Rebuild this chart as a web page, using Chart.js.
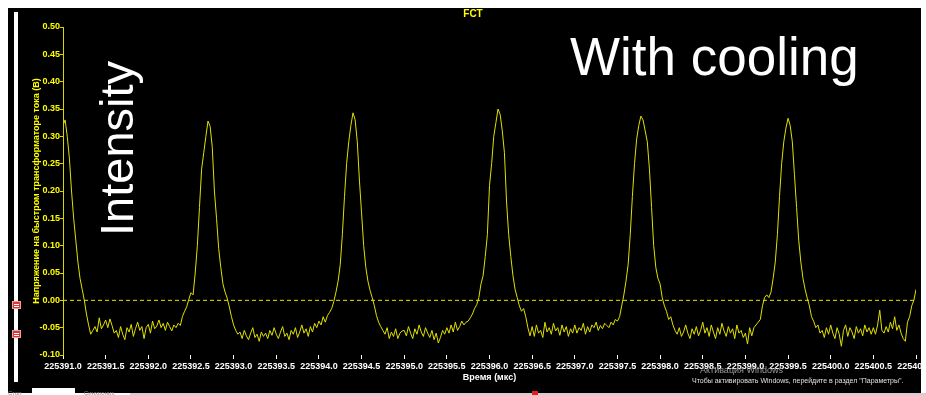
<!DOCTYPE html>
<html>
<head>
<meta charset="utf-8">
<script src="https://cdn.jsdelivr.net/npm/chart.js@4.4.1/dist/chart.umd.min.js"></script>
<style>
html, body { margin: 0; padding: 0; background: #fff; }
#wrap { width: 926px; height: 395px; }
</style>
</head>
<body>
<div id="wrap"><canvas id="chart" width="926" height="395"></canvas></div>
<script>
// Сигнал FCT, отсчёты каждые 0.025 мкс начиная с 225391.0
const timeStart = 225391.0;
const timeStep = 0.025;
const voltage = [
  0.32, 0.33, 0.30, 0.26, 0.20, 0.15, 0.11, 0.07, 0.04, 0.02, 0.00, -0.025, -0.045, -0.062, -0.055, -0.048, -0.058, -0.032, -0.052, -0.045,
  -0.036, -0.05, -0.034, -0.046, -0.06, -0.055, -0.068, -0.048, -0.062, -0.072, -0.05, -0.058, -0.044, -0.066, -0.052, -0.04, -0.055, -0.048, -0.07, -0.05,
  -0.044, -0.06, -0.038, -0.052, -0.047, -0.036, -0.05, -0.042, -0.055, -0.04, -0.048, -0.056, -0.045, -0.05, -0.042, -0.046, -0.03, -0.02, -0.012, 0.002,
  0.014, 0.01, 0.05, 0.10, 0.17, 0.24, 0.27, 0.30, 0.328, 0.318, 0.28, 0.20, 0.15, 0.095, 0.06, 0.03, 0.015, 0.004, -0.012, -0.03,
  -0.045, -0.055, -0.062, -0.058, -0.07, -0.055, -0.065, -0.072, -0.06, -0.05, -0.068, -0.062, -0.075, -0.058, -0.066, -0.06, -0.07, -0.055, -0.064, -0.05,
  -0.062, -0.07, -0.058, -0.048, -0.066, -0.06, -0.072, -0.055, -0.062, -0.05, -0.068, -0.058, -0.045, -0.06, -0.052, -0.066, -0.048, -0.058, -0.042, -0.05,
  -0.038, -0.045, -0.03, -0.04, -0.028, -0.022, -0.015, -0.002, 0.015, 0.035, 0.065, 0.12, 0.19, 0.25, 0.29, 0.32, 0.343, 0.33, 0.29, 0.22,
  0.16, 0.10, 0.06, 0.035, 0.018, 0.005, -0.01, -0.028, -0.04, -0.048, -0.055, -0.062, -0.05, -0.07, -0.058, -0.066, -0.052, -0.07, -0.06, -0.056,
  -0.055, -0.065, -0.048, -0.06, -0.07, -0.052, -0.062, -0.045, -0.058, -0.066, -0.05, -0.06, -0.068, -0.055, -0.072, -0.06, -0.078, -0.068, -0.055, -0.062,
  -0.05, -0.06, -0.045, -0.058, -0.04, -0.055, -0.048, -0.038, -0.045, -0.04, -0.038, -0.032, -0.025, -0.015, -0.008, 0.005, 0.03, 0.045, 0.08, 0.12,
  0.21, 0.25, 0.30, 0.325, 0.35, 0.34, 0.31, 0.27, 0.18, 0.12, 0.08, 0.045, 0.02, 0.005, -0.01, -0.02, -0.015, -0.03, -0.05, -0.065,
  -0.048, -0.066, -0.045, -0.06, -0.055, -0.068, -0.04, -0.058, -0.05, -0.062, -0.042, -0.056, -0.05, -0.064, -0.045, -0.058, -0.048, -0.066, -0.052, -0.06,
  -0.045, -0.06, -0.05, -0.055, -0.042, -0.062, -0.048, -0.058, -0.045, -0.05, -0.04, -0.055, -0.046, -0.052, -0.042, -0.046, -0.05, -0.04, -0.045, -0.035,
  -0.038, -0.03, -0.01, 0.01, 0.035, 0.065, 0.12, 0.19, 0.25, 0.295, 0.32, 0.337, 0.33, 0.31, 0.29, 0.24, 0.17, 0.10, 0.06, 0.04,
  0.03, 0.005, -0.01, -0.02, -0.035, -0.03, -0.045, -0.055, -0.062, -0.05, -0.066, -0.058, -0.045, -0.06, -0.07, -0.052, -0.062, -0.048, -0.065, -0.055,
  -0.04, -0.06, -0.05, -0.066, -0.045, -0.058, -0.07, -0.05, -0.062, -0.042, -0.056, -0.066, -0.048, -0.06, -0.052, -0.07, -0.045, -0.06, -0.055, -0.068,
  -0.06, -0.08, -0.05, -0.065, -0.05, -0.045, -0.04, -0.035, -0.01, 0.005, 0.01, 0.005, 0.015, 0.04, 0.07, 0.12, 0.19, 0.25, 0.29, 0.315,
  0.333, 0.32, 0.29, 0.23, 0.17, 0.11, 0.07, 0.04, 0.02, 0.004, -0.01, -0.03, -0.038, -0.05, -0.045, -0.06, -0.055, -0.068, -0.05, -0.062,
  -0.045, -0.06, -0.07, -0.05, -0.062, -0.084, -0.055, -0.045, -0.066, -0.05, -0.058, -0.07, -0.048, -0.06, -0.052, -0.065, -0.045, -0.058, -0.05, -0.062,
  -0.05, -0.062, -0.045, -0.018, -0.055, -0.06, -0.048, -0.058, -0.04, -0.052, -0.03, -0.055, -0.045, -0.06, -0.07, -0.075, -0.04, -0.03, -0.01, 0.0,
  0.02
];

// оси
const xMin = 225391.0, xMax = 225401.0, xStep = 0.5;
const yMin = -0.10, yMax = 0.50, yStep = 0.05;
const zeroLevel = [0, 0];

const FONT = "'Liberation Sans', Arial, sans-serif";
const YELLOW = '#ffff00';

const points = voltage.map((v, i) => ({ x: timeStart + i * timeStep, y: v }));

// фон, рамка окна и надписи поверх графика
const decor = {
  id: 'decor',
  beforeDraw(chart) {
    const c = chart.ctx;
    c.save();
    c.fillStyle = '#fff';
    c.fillRect(0, 0, 926, 395);
    c.fillStyle = '#000';
    c.fillRect(8, 8, 913, 385);
    // ползунок слева
    c.fillStyle = '#fff';
    c.fillRect(14, 12, 4, 370);
    c.restore();
  },
  afterDraw(chart) {
    const c = chart.ctx;
    const a = chart.chartArea;
    c.save();
    // правая белая кромка обрезает последнюю подпись
    c.fillStyle = '#fff';
    c.fillRect(921, 0, 5, 395);
    c.fillStyle = '#d0d0d0';
    c.fillRect(130, 393, 796, 2);

    // красные ручки ползунка
    [301, 330].forEach(y => {
      c.fillStyle = '#e03535';
      c.fillRect(12, y, 9, 8);
      c.strokeStyle = '#f0a0a0';
      c.lineWidth = 1;
      c.strokeRect(12.5, y + 0.5, 8, 7);
      c.fillStyle = '#fff';
      c.fillRect(14, y + 3, 5, 1);
      c.fillRect(14, y + 5, 5, 1);
    });

    // нижняя строка окна
    c.fillStyle = '#fff';
    c.fillRect(32, 388, 43, 7);
    c.fillStyle = '#888';
    c.font = '6px ' + FONT;
    c.textBaseline = 'alphabetic';
    c.textAlign = 'left';
    c.fillText('Стоп', 8, 395);
    c.fillText('Синхрониз.', 84, 395);
    c.fillStyle = '#e02020';
    c.fillRect(532, 391, 6, 4);

    // заголовок
    c.fillStyle = YELLOW;
    c.font = 'bold 10px ' + FONT;
    c.textAlign = 'center';
    c.textBaseline = 'middle';
    c.fillText('FCT', 473, 14);

    // подпись оси Y
    c.save();
    c.translate(37, (a.top + a.bottom) / 2);
    c.rotate(-Math.PI / 2);
    c.font = 'bold 9px ' + FONT;
    c.fillText('Напряжение на быстром трансформаторе тока (В)', 0, 0);
    c.restore();

    // подпись оси X
    c.fillStyle = '#fff';
    c.font = 'bold 9px ' + FONT;
    c.fillText('Время (мкс)', (a.left + a.right) / 2, 378);

    // большие надписи
    c.font = '53px ' + FONT;
    c.textAlign = 'left';
    c.textBaseline = 'alphabetic';
    c.fillText('With cooling', 570, 75);
    c.save();
    c.translate(133, 236);
    c.rotate(-Math.PI / 2);
    c.font = '47px ' + FONT;
    c.fillText('Intensity', 0, 0);
    c.restore();

    // водяной знак активации
    c.fillStyle = '#9a9a9a';
    c.font = '9px ' + FONT;
    c.fillText('Активация Windows', 700, 373);
    c.fillStyle = '#e0e0e0';
    c.font = '7px ' + FONT;
    c.fillText('Чтобы активировать Windows, перейдите в раздел "Параметры".', 692, 383);
    c.restore();
  }
};

const ctx = document.getElementById('chart').getContext('2d');
const chart = new Chart(ctx, {
  type: 'line',
  data: {
    datasets: [{
      data: points,
      borderColor: '#e0e000',
      borderWidth: 1,
      pointRadius: 0,
      tension: 0,
      fill: false
    }, {
      data: [{ x: xMin, y: zeroLevel[0] }, { x: xMax, y: zeroLevel[1] }],
      borderColor: '#e6e600',
      borderWidth: 1,
      borderDash: [4, 3],
      pointRadius: 0,
      fill: false
    }]
  },
  options: {
    responsive: false,
    animation: false,
    devicePixelRatio: 1,
    layout: { padding: { top: 27, right: 10, bottom: 0, left: 0 } },
    plugins: {
      legend: { display: false },
      tooltip: { enabled: false },
      title: { display: false }
    },
    scales: {
      x: {
        type: 'linear',
        min: xMin,
        max: xMax,
        afterFit: s => { s.height = 40; s.paddingLeft = 0; s.paddingRight = 0; },
        border: { display: false },
        grid: { drawOnChartArea: false, color: '#fff', tickLength: 4 },
        ticks: {
          stepSize: xStep,
          autoSkip: false,
          maxRotation: 0,
          minRotation: 0,
          padding: 2,
          color: '#fff',
          font: { family: FONT, size: 9, weight: 'bold' },
          callback: v => v.toFixed(1)
        }
      },
      y: {
        min: yMin,
        max: yMax,
        afterFit: s => { s.width = 63; },
        border: { display: true, color: '#d8d800' },
        grid: { drawOnChartArea: false, color: '#d8d800', tickLength: 3 },
        ticks: {
          stepSize: yStep,
          padding: 0,
          color: YELLOW,
          font: { family: FONT, size: 9, weight: 'bold' },
          callback: v => (Math.abs(v) < 1e-9 ? 0 : v).toFixed(2)
        }
      }
    }
  },
  plugins: [decor]
});
</script>
</body>
</html>
